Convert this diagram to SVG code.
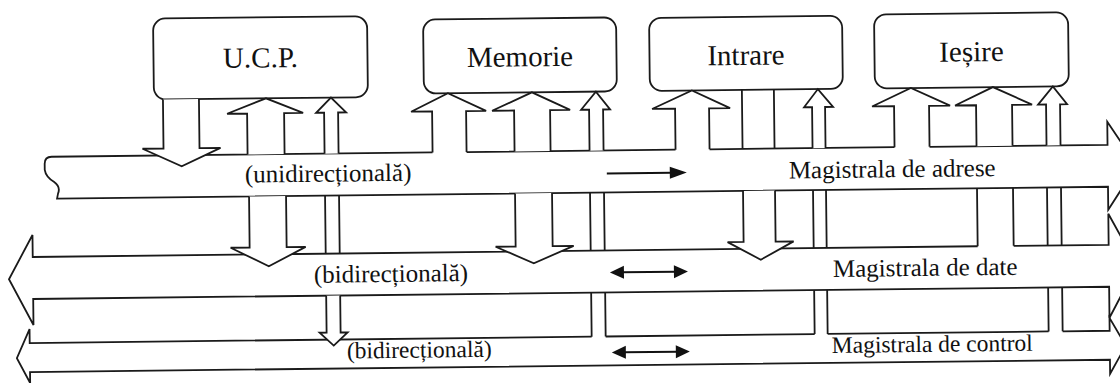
<svg xmlns="http://www.w3.org/2000/svg" width="1120" height="383" viewBox="0 0 1120 383">
  <style>
    .ln { fill: none; stroke: #1a1a1a; stroke-width: 1.8; stroke-linejoin: miter; }
    .ar { fill: #fff; stroke: #1a1a1a; stroke-width: 1.8; stroke-linejoin: miter; }
    .box { fill: #fff; stroke: #1a1a1a; stroke-width: 1.8; }
    .lbl { font-family: "Liberation Serif", "Times New Roman", serif; fill: #111; }
    .unit { font-size: 29px; text-anchor: middle; }
    .bus { font-size: 25px; }
    .bus-sm { font-size: 23.5px; }
    .dir { fill: #111; stroke: none; }
    .dirln { stroke: #111; stroke-width: 2; fill: none; }
  </style>
  <rect width="1120" height="383" fill="#fff"/>
  <g transform="rotate(-0.65 560 190)">

    <!-- address bus: broken left end, arrow to the right -->
    <g id="bus-adrese">
      <path class="ln" d="M 930,151 L 1108,151 L 1108,128 L 1137,172 L 1108,216 L 1108,193 L 57,193 L 58,188 Q 61,181 54,176 Q 46,171 45,164 L 45,158 Q 45,151 52,151 L 433,151 M 467,151 L 676,151 M 710,151 L 895,151"/>
      <text class="lbl bus" x="245" y="179">(unidirecțională)</text>
      <text class="lbl bus" x="789" y="181">Magistrala de adrese</text>
      <path class="dirln" d="M 607,174 L 672,174"/>
      <polygon class="dir" points="670,168 687,174 670,180"/>
    </g>

    <!-- data bus: arrows at both ends -->
    <g id="bus-date">
      <path class="ln" d="M 1013,251 L 1108,251 L 1108,220 L 1136,272 L 1108,324 L 1108,293 L 32,293 L 32,319 L 8,273 L 32,229 L 32,251 L 977,251"/>
      <text class="lbl bus" x="313" y="280">(bidirecțională)</text>
      <text class="lbl bus" x="832" y="280">Magistrala de date</text>
      <path class="dirln" d="M 621,273 L 675,273"/>
      <polygon class="dir" points="623,266.5 609,273 623,279.5"/>
      <polygon class="dir" points="673,266.5 687,273 673,279.5"/>
    </g>

    <!-- control bus: arrows at both ends -->
    <g id="bus-control">
      <path class="ln" d="M 1061,337 L 1108,337 L 1108,324 L 1124,352 L 1108,380 L 1108,366 L 28,366 L 28,377 L 15,352 L 28,323 L 28,337 L 590,337 M 604,337 L 813,337 M 826,337 L 1047,337"/>
      <text class="lbl bus-sm" x="345" y="356">(bidirecțională)</text>
      <text class="lbl bus-sm" x="830" y="356">Magistrala de control</text>
      <path class="dirln" d="M 622,353 L 676,353"/>
      <polygon class="dir" points="624,346.5 610,353 624,359.5"/>
      <polygon class="dir" points="674,346.5 688,353 674,359.5"/>
    </g>

    <!-- units -->
    <g id="node-ucp">
      <rect class="box" x="155" y="14" width="214" height="81" rx="12"/>
      <text class="lbl unit" x="262" y="64">U.C.P.</text>
    </g>
    <g id="node-memorie">
      <rect class="box" x="425" y="18" width="193" height="74" rx="12"/>
      <text class="lbl unit" x="521.5" y="66">Memorie</text>
    </g>
    <g id="node-intrare">
      <rect class="box" x="651" y="19" width="193" height="73" rx="12"/>
      <text class="lbl unit" x="747.5" y="67">Intrare</text>
    </g>
    <g id="node-iesire">
      <rect class="box" x="876" y="18" width="194" height="74" rx="12"/>
      <text class="lbl unit" x="973" y="66">Ieșire</text>
    </g>

    <!-- links between the units and the buses -->
    <g id="connectors">
      <!-- U.C.P. -->
      <path class="ar" d="M 164,95 L 164,144 L 143,144 L 182,162 L 221,144 L 200,144 L 200,95"/>
      <path class="ar" d="M 248,151 L 248,110 L 228,110 L 267,95 L 304,110 L 285,110 L 285,151"/>
      <path class="ar" d="M 249,193 L 249,244 L 230,244 L 268,263 L 305,244 L 286,244 L 286,193"/>
      <path class="ar" d="M 325,151 L 325,110 L 317,110 L 332,95 L 347,110 L 339,110 L 339,151"/>
      <path class="ln" d="M 325,193 L 325,251 M 339,193 L 339,251"/>
      <path class="ar" d="M 325,293 L 325,330 L 318,330 L 332,343 L 346,330 L 339,330 L 339,293"/>

      <!-- Memorie -->
      <path class="ar" d="M 433,151 L 433,110 L 412,110 L 449,92 L 487,110 L 467,110 L 467,151"/>
      <path class="ar" d="M 515,151 L 515,110 L 493,110 L 533,92 L 571,110 L 551,110 L 551,151"/>
      <path class="ar" d="M 515,193 L 515,246 L 495,246 L 533,263 L 573,246 L 552,246 L 552,193"/>
      <path class="ar" d="M 590,151 L 590,110 L 582,110 L 597,92 L 611,110 L 604,110 L 604,151"/>
      <path class="ln" d="M 590,193 L 590,251 M 604,193 L 604,251 M 590,293 L 590,337 M 604,293 L 604,337"/>

      <!-- Intrare -->
      <path class="ar" d="M 676,151 L 676,110 L 653,110 L 693,92 L 731,110 L 710,110 L 710,151"/>
      <path class="ln" d="M 743,92 L 743,151 M 775,92 L 775,151"/>
      <path class="ar" d="M 743,193 L 743,244 L 727,244 L 760,262 L 793,244 L 775,244 L 775,193"/>
      <path class="ar" d="M 813,151 L 813,110 L 805,110 L 819,92 L 834,110 L 826,110 L 826,151"/>
      <path class="ln" d="M 813,193 L 813,251 M 826,193 L 826,251 M 813,293 L 813,337 M 826,293 L 826,337"/>

      <!-- Ieșire -->
      <path class="ar" d="M 895,151 L 895,110 L 873,110 L 912,92 L 951,110 L 930,110 L 930,151"/>
      <path class="ar" d="M 977,151 L 977,110 L 956,110 L 994,92 L 1033,110 L 1013,110 L 1013,151"/>
      <path class="ln" d="M 977,193 L 977,251 M 1013,193 L 1013,251"/>
      <path class="ar" d="M 1047,151 L 1047,110 L 1039,110 L 1054,92 L 1068,110 L 1061,110 L 1061,151"/>
      <path class="ln" d="M 1047,193 L 1047,251 M 1061,193 L 1061,251 M 1047,293 L 1047,337 M 1061,293 L 1061,337"/>
    </g>
  </g>
</svg>
